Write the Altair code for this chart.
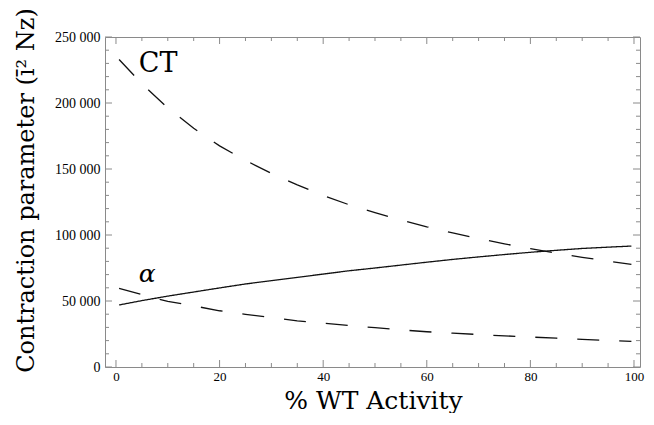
import altair as alt
import pandas as pd

# ---- data ----
x_pts = [0.6, 5, 10, 15, 20, 25, 30, 35, 40, 45, 50, 55, 60, 65, 70, 75, 80, 85, 90, 95, 99.5]
ct_vals = [233000, 214600, 196300, 180900, 167500, 156500, 146700, 138000, 130000, 122900,
           117000, 111300, 106200, 101600, 97300, 93300, 89600, 86200, 83100, 80200, 77800]
alpha_vals = [59500, 54800, 49700, 46300, 42600, 39900, 37400, 35000, 33200, 31500,
              29800, 28100, 26700, 25600, 24600, 23600, 22700, 21800, 20900, 20100, 19400]
solid_vals = [47000, 50300, 53700, 56800, 59900, 62900, 65400, 67900, 70400, 72900,
              75000, 77200, 79400, 81500, 83400, 85200, 86900, 88400, 89800, 90800, 91600]

x_major = [0, 20, 40, 60, 80, 100]
x_minor = [5, 10, 15, 25, 30, 35, 45, 50, 55, 65, 70, 75, 85, 90, 95]
y_major = [0, 50000, 100000, 150000, 200000, 250000]
y_minor = [10000, 20000, 30000, 40000, 60000, 70000, 80000, 90000, 110000, 120000, 130000,
           140000, 160000, 170000, 180000, 190000, 210000, 220000, 230000, 240000]

label_text = ["CT"]
label_x = [4.4]
label_y = [223600]
alpha_text = ["α"]
alpha_x = [4.4]
alpha_y = [64400]

W, H = 535, 330
GRAY = "#8a8a8a"
MAJ, MIN = 7, 4
SERIF_T = "'DejaVu Serif', 'Liberation Serif', serif"
SERIF_L = "'Liberation Serif', 'DejaVu Serif', serif"

rows = []
for name, vals in [("CT", ct_vals), ("alpha", alpha_vals), ("solid", solid_vals)]:
    for xv, yv in zip(x_pts, vals):
        rows.append({"x": xv, "y": yv, "series": name})
df = pd.DataFrame(rows)

xs = alt.Scale(domain=[-2.12, 101.16], nice=False, zero=False)
ys = alt.Scale(domain=[0, 250000], nice=False, zero=False)

lines = alt.Chart(df).mark_line(strokeWidth=1.3, color="#111111").encode(
    x=alt.X("x:Q", scale=xs, axis=alt.Axis(
        title="% WT Activity", values=x_major, ticks=False, domain=False, grid=False,
        labelFont=SERIF_L, labelFontSize=13, labelColor="#000000", labelPadding=3,
        titleFont=SERIF_T, titleFontSize=25, titleFontWeight="normal", titleColor="#000000",
        titleX=268, titleY=41, titleBaseline="alphabetic", titleAlign="center")),
    y=alt.Y("y:Q", scale=ys, axis=alt.Axis(
        title="Contraction parameter (ī² Nz)", values=y_major, ticks=False, domain=False, grid=False,
        labelExpr="replace(format(datum.value, ','), ',', ' ')",
        labelFont=SERIF_L, labelFontSize=14, labelColor="#000000", labelPadding=5,
        titleFont=SERIF_T, titleFontSize=24, titleFontWeight="normal", titleColor="#000000",
        titleX=-72, titleY=153, titleBaseline="alphabetic", titleAlign="center", titleAngle=270)),
    strokeDash=alt.StrokeDash("series:N", scale=alt.Scale(
        domain=["CT", "alpha", "solid"], range=[[22, 20], [22, 20], [1, 0]]), legend=None),
    detail="series:N",
)

def xticks(vals, length):
    d = pd.DataFrame({"v": vals})
    b = alt.Chart(d).mark_rule(color=GRAY, strokeWidth=1)
    bottom = b.encode(x=alt.X("v:Q", scale=xs, axis=None), y=alt.value(H), y2=alt.value(H - length))
    top = b.encode(x=alt.X("v:Q", scale=xs, axis=None), y=alt.value(0), y2=alt.value(length))
    return [bottom, top]

def yticks(vals, length):
    d = pd.DataFrame({"v": vals})
    b = alt.Chart(d).mark_rule(color=GRAY, strokeWidth=1)
    left = b.encode(y=alt.Y("v:Q", scale=ys, axis=None), x=alt.value(0), x2=alt.value(length))
    right = b.encode(y=alt.Y("v:Q", scale=ys, axis=None), x=alt.value(W), x2=alt.value(W - length))
    return [left, right]

ct_label = alt.Chart(pd.DataFrame({"t": label_text, "tx": label_x, "ty": label_y})).mark_text(
    font=SERIF_T, fontSize=27, align="left", baseline="alphabetic", color="#000000"
).encode(x=alt.X("tx:Q", scale=xs, axis=None), y=alt.Y("ty:Q", scale=ys, axis=None), text="t:N")

alpha_label = alt.Chart(pd.DataFrame({"t": alpha_text, "tx": alpha_x, "ty": alpha_y})).mark_text(
    font=SERIF_T, fontSize=25, fontStyle="italic", align="left", baseline="alphabetic", color="#000000"
).encode(x=alt.X("tx:Q", scale=xs, axis=None), y=alt.Y("ty:Q", scale=ys, axis=None), text="t:N")

layers = [lines] + xticks(x_major, MAJ) + xticks(x_minor, MIN) + yticks(y_major, MAJ) + yticks(y_minor, MIN) + [ct_label, alpha_label]

chart = alt.layer(*layers).resolve_axis(x="independent", y="independent").properties(
    width=W, height=H,
    background="white",
    autosize=alt.AutoSizeParams(type="none"),
    padding={"left": 97, "top": 29, "right": 6, "bottom": 46},
).configure_view(stroke=GRAY, strokeWidth=1)

chart.save("out.html", embed_options={"renderer": "svg", "actions": False})
